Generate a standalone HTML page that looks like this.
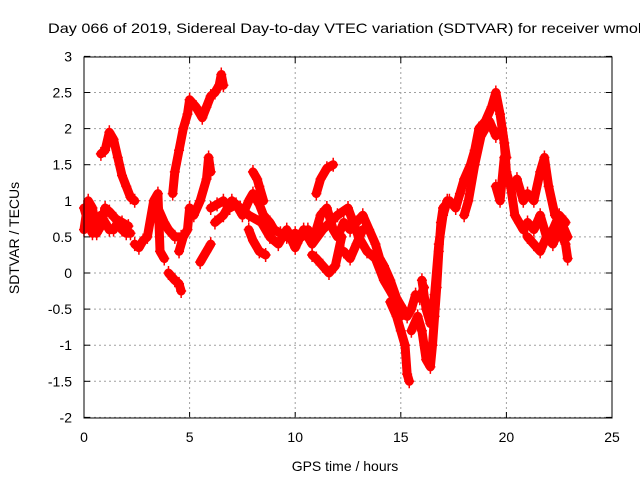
<!DOCTYPE html>
<html><head><meta charset="utf-8"><style>
body{margin:0;background:#fff}
svg{display:block;font-family:"Liberation Sans",sans-serif}
</style></head><body>
<svg id="c" width="640" height="480">
<text x="48" y="33" font-size="14" textLength="598" lengthAdjust="spacingAndGlyphs" fill="#000">Day 066 of 2019, Sidereal Day-to-day VTEC variation (SDTVAR) for receiver wmok</text>
<text x="345" y="471" font-size="14" text-anchor="middle">GPS time / hours</text>
<text transform="translate(19,238) rotate(-90)" font-size="14" text-anchor="middle">SDTVAR / TECUs</text>
<g id="grid"></g><g id="marks"></g>
<rect x="84" y="57" width="528" height="361" fill="none" stroke="#000" stroke-width="1"/>
</svg>
<script>
const xTicks=[0,5,10,15,20,25];
const yTicks=[-2,-1.5,-1,-0.5,0,0.5,1,1.5,2,2.5,3];
const trackA=[[0,0.9],[0.2,0.7],[0.4,0.55],[0.6,0.75],[0.8,0.8],[1.0,0.7],[1.2,0.6],[1.4,0.6],[1.6,0.7],[1.8,0.6],[2.0,0.55],[2.2,0.55]];
const trackA2=[[0,0.6],[0.2,1.0],[0.4,0.9],[0.6,0.55],[0.8,0.65],[1.0,0.9],[1.2,0.85],[1.5,0.75],[1.8,0.7],[2.1,0.65]];
const trackB=[[0.8,1.65],[1.0,1.7],[1.2,1.95],[1.4,1.85],[1.6,1.6],[1.8,1.35],[2.0,1.2],[2.2,1.05],[2.4,1.0]];
const trackC=[[2.4,0.4],[2.6,0.35],[2.8,0.45],[3.0,0.5],[3.3,1.0],[3.5,1.1],[3.6,0.3],[3.8,0.2]];
const trackD=[[3.5,0.9],[3.8,0.7],[4.0,0.6],[4.3,0.5],[4.6,0.5]];
const trackE=[[4.0,0.0],[4.3,-0.1],[4.5,-0.15],[4.6,-0.25]];
const trackF=[[4.2,1.1],[4.3,1.4],[4.5,1.7],[4.7,2.0],[4.9,2.2],[5.0,2.4],[5.3,2.3],[5.6,2.15],[5.8,2.3],[6.0,2.45],[6.2,2.5],[6.4,2.6],[6.5,2.75],[6.6,2.6]];
const trackG=[[4.5,0.3],[4.7,0.5],[4.9,0.6],[5.0,0.9],[5.2,0.8],[5.5,1.0],[5.8,1.3],[5.9,1.6],[6.0,1.4]];
const trackH=[[5.5,0.15],[5.8,0.3],[6.0,0.4]];
const trackI=[[6.0,0.9],[6.3,0.95],[6.6,1.0],[6.9,0.9],[7.2,0.95],[7.5,0.8],[7.8,1.0],[8.0,1.1],[8.3,0.95],[8.5,0.8],[8.8,0.7],[9.0,0.6],[9.3,0.55],[9.6,0.5],[10.0,0.55],[10.3,0.5],[10.6,0.6],[10.9,0.5],[11.2,0.8],[11.5,0.9],[11.8,0.6],[12.0,0.5],[12.3,0.7],[12.6,0.6],[12.9,0.7],[13.2,0.8],[13.5,0.6],[13.8,0.4],[14.0,0.2],[14.2,0.1],[14.5,-0.1],[14.8,-0.35],[15.0,-0.45],[15.3,-0.6],[15.5,-0.5],[15.7,-0.3],[15.9,-0.35],[16.1,-0.2]];
const trackI2=[[6.2,0.7],[6.6,0.8],[7.0,1.0],[7.4,0.9],[7.8,0.8],[8.4,0.7],[8.8,0.5],[9.2,0.4],[9.6,0.6],[10.0,0.35],[10.4,0.6],[10.8,0.4],[11.3,0.6],[12.0,0.8],[12.5,0.9],[13.0,0.5],[13.4,0.3],[13.8,0.2],[14.2,-0.1],[14.6,-0.3],[15.0,-0.6]];
const trackJ=[[7.8,0.6],[8.0,0.45],[8.3,0.3],[8.6,0.25]];
const trackK=[[8.0,1.4],[8.2,1.3],[8.3,1.2],[8.5,1.0]];
const trackL=[[11.0,1.1],[11.2,1.3],[11.5,1.45],[11.8,1.5]];
const trackM=[[10.8,0.25],[11.0,0.2],[11.3,0.1],[11.6,0.0],[11.9,0.1],[12.2,0.5]];
const trackN=[[12.3,0.3],[12.6,0.2],[12.9,0.4],[13.2,0.6]];
const trackO=[[14.5,-0.4],[14.8,-0.6],[15.0,-0.8],[15.2,-1.0],[15.3,-1.4],[15.4,-1.5]];
const trackP=[[15.5,-0.8],[15.8,-0.6],[16.0,-0.8],[16.2,-1.2],[16.4,-1.3],[16.5,-1.0],[16.6,-0.6],[16.7,-0.2],[16.8,0.3],[16.9,0.7],[17.0,0.9],[17.3,1.0],[17.6,0.9],[17.8,1.1],[18.0,1.3],[18.3,1.5],[18.5,1.7],[18.7,2.0],[19.0,2.1],[19.3,2.3],[19.5,2.5],[19.7,2.2],[19.9,1.8],[20.0,1.4],[20.2,1.2],[20.4,0.8],[20.6,0.7],[20.8,0.6],[21.0,0.7],[21.3,0.6],[21.6,0.8],[21.9,0.5],[22.2,0.4],[22.5,0.6],[22.8,0.4],[22.9,0.2]];
const trackQ=[[16.0,-0.1],[16.2,-0.5],[16.4,-0.7],[16.6,-0.3],[16.8,0.4],[17.0,0.8],[17.2,1.0]];
const trackR=[[18.0,0.8],[18.2,1.0],[18.5,1.5],[18.8,1.9],[19.2,2.1],[19.5,1.9],[19.8,2.0],[20.0,1.6]];
const trackS=[[19.5,1.2],[19.7,1.0],[19.9,1.6]];
const trackT=[[20.5,1.3],[20.8,1.0],[21.0,1.1],[21.3,1.0],[21.6,1.4],[21.8,1.6],[22.0,1.2],[22.3,0.8],[22.6,0.7],[22.9,0.5]];
const trackU=[[21.0,0.5],[21.3,0.4],[21.6,0.3],[21.9,0.5],[22.2,0.6],[22.5,0.8],[22.8,0.7]];
const tracks=[trackA,trackA2,trackB,trackC,trackD,trackE,trackF,trackG,trackH,trackI,trackI2,trackJ,trackK,trackL,trackM,trackN,trackO,trackP,trackQ,trackR,trackS,trackT,trackU];
const NS="http://www.w3.org/2000/svg";
const X=t=>84+t*528/25;
const Y=v=>273-v*72.2;
const grid=document.getElementById('grid'),marks=document.getElementById('marks');
function mk(tag,at,par){const e=document.createElementNS(NS,tag);for(const k in at)e.setAttribute(k,at[k]);par.appendChild(e);return e;}
xTicks.forEach(t=>{
  const l=mk('line',{x1:X(t),x2:X(t),y1:57,y2:418,stroke:'#a0a0a0','stroke-dasharray':'2,3'},grid);
  
  
  mk('line',{x1:X(t),x2:X(t),y1:418,y2:412,stroke:'#000'},grid);
  mk('line',{x1:X(t),x2:X(t),y1:57,y2:63,stroke:'#000'},grid);
  const tx=mk('text',{x:X(t),y:442,'font-size':14,'text-anchor':'middle'},grid);tx.textContent=t;
  
  
});
yTicks.forEach(v=>{
  const l=mk('line',{x1:84,x2:612,y1:Y(v),y2:Y(v),stroke:'#a0a0a0','stroke-dasharray':'2,3'},grid);
  
  
  mk('line',{x1:84,x2:90,y1:Y(v),y2:Y(v),stroke:'#000'},grid);
  mk('line',{x1:612,x2:606,y1:Y(v),y2:Y(v),stroke:'#000'},grid);
  const tx=mk('text',{x:72,y:Y(v)+5,'font-size':14,'text-anchor':'end'},grid);tx.textContent=v;
  
  
});
tracks.forEach(tr=>{
  const pl=mk('polyline',{points:tr.map(p=>X(p[0])+','+Y(p[1])).join(' '),fill:'none',stroke:'#ff0000','stroke-width':9,'stroke-linejoin':'round','stroke-linecap':'round'},marks);
  
  
  tr.forEach(p=>{
    const x=X(p[0]),y=Y(p[1]);
    const m=mk('path',{d:`M${x-5},${y}h10M${x},${y-7}v14`,stroke:'#ff0000','stroke-width':1.5},marks);
    
    
  });
});
</script>
</body></html>
